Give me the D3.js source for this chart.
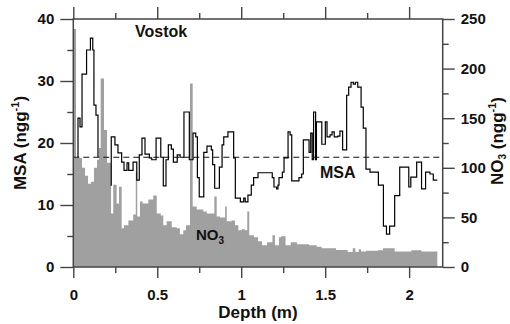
<!DOCTYPE html>
<html>
<head>
<meta charset="utf-8">
<script src="https://cdn.jsdelivr.net/npm/d3@7"></script>
<style>
  html, body { margin: 0; padding: 0; background: #fff; }
  text { font-family: "Liberation Sans", Arial, Helvetica, sans-serif; font-weight: bold; fill: #111; }
</style>
</head>
<body>
<div id="chart"></div>
<script>
// NO3 histogram: bin edges (m) and values (ng/g)
const no3Edges = [0, 0.016, 0.052, 0.070, 0.088, 0.105, 0.123, 0.141, 0.153, 0.163, 0.183, 0.201, 0.225,
  0.238, 0.258, 0.272, 0.288, 0.302, 0.328, 0.357, 0.372, 0.381, 0.397, 0.413, 0.447, 0.476, 0.497,
  0.521, 0.536, 0.556, 0.586, 0.616, 0.635, 0.655, 0.671, 0.695, 0.711, 0.735, 0.774, 0.795, 0.840,
  0.854, 0.874, 0.904, 0.914, 0.943, 0.963, 0.983, 1.003, 1.022, 1.036, 1.048, 1.076, 1.100, 1.124,
  1.154, 1.186, 1.201, 1.225, 1.237, 1.264, 1.295, 1.332, 1.404, 1.450, 1.479, 1.565, 1.634, 1.664,
  1.680, 1.700, 1.714, 1.743, 1.815, 1.845, 1.914, 2.013, 2.073, 2.168];
const no3Values = [240, 110, 100, 92, 84, 86, 100, 108, 120, 190, 138, 105, 54, 83, 64, 81, 39, 42, 47,
  53, 96, 51, 66, 64, 68, 72, 54, 52, 42, 46, 40, 39, 33, 37, 42, 185, 61, 58, 56, 54, 71, 51, 50, 61,
  46, 47, 42, 37, 38, 37, 56, 32, 30, 26, 22, 25, 32, 22, 30, 31, 22, 25, 23, 22, 20.5, 18.8, 17.1,
  15, 19, 15, 18, 15.5, 16.5, 17, 18.8, 15.5, 17, 15.5];

// MSA step record: depth where each step starts (m) and value (ng/g); null = no data
const msaDepth = [0.027, 0.028, 0.040, 0.052, 0.079, 0.102, 0.116, 0.123, 0.135, 0.147, 0.185, 0.222,
  0.226, 0.248, 0.266, 0.288, 0.302, 0.320, 0.330, 0.356, 0.378, 0.393, 0.409, 0.427, 0.453, 0.467,
  0.493, 0.521, 0.536, 0.552, 0.566, 0.584, 0.596, 0.619, 0.636, 0.659, 0.691, 0.713, 0.729, 0.739,
  0.750, 0.777, 0.796, 0.822, 0.830, 0.842, 0.870, 0.886, 0.896, 0.921, 0.955, 0.965, 0.995, 1.015,
  1.024, 1.040, 1.060, 1.074, 1.100, 1.185, 1.195, 1.211, 1.219, 1.225, 1.245, 1.255, 1.279, 1.291,
  1.301, 1.344, 1.360, 1.370, 1.404, 1.414, 1.423, 1.431, 1.443, 1.448, 1.480, 1.501, 1.511, 1.529,
  1.541, 1.554, 1.575, 1.588, 1.604, 1.628, 1.640, 1.654, 1.668, 1.680, 1.694, 1.714, 1.727, 1.743,
  1.767, 1.817, 1.847, 1.865, 1.884, 1.914, 1.944, 1.998, 2.010, 2.045, 2.074, 2.098, 2.124, 2.144, 2.168];
const msaValues = [17.7, 24.0, 22.6, 31.1, 35.0, 36.9, 35.0, 26.1, 24.5, 17.7, null, 13.2,
  21.0, 19.7, 18.4, 16.9, 15.6, 16.8, 15.6, 16.9, 14.0, 18.1, 20.8, 18.2, 17.6, 17.3,
  20.8, 17.7, 13.1, 17.3, 19.7, 19.0, 16.9, 18.1, 17.7, 25.0, 17.3, 21.6, 21.0, 14.4,
  11.3, 18.5, 19.5, 18.9, 16.5, 12.7, 16.1, 19.7, 21.0, 21.8, 17.6, 11.1, 10.5, 11.1,
  10.5, 11.6, 13.2, 14.4, 15.2, 14.4, 12.9, 12.6, 13.2, 14.4, 15.3, 17.6, 21.8, 21.3,
  13.9, 14.4, 15.0, 20.5, 18.5, 21.6, 17.3, 25.0, 17.3, 23.4, 19.8, 23.4, 21.0, 21.3,
  21.8, 21.0, 21.1, 21.9, 18.9, 27.7, 29.0, 29.8, 29.5, 29.8, 29.0, 25.8, 22.4, 15.8,
  15.3, 13.2, 6.6, 5.3, 6.6, 11.5, 16.1, 12.9, 14.5, 16.9, 12.6, 15.3, 15.0, 14.0, 14.0];
const msaMean = 17.7;

const depthTicks = [0, 0.5, 1, 1.5, 2];
const depthMinor = [0.25, 0.75, 1.25, 1.75];
const msaTicks = [0, 10, 20, 30, 40];
const msaMinor = [5, 15, 25, 35];
const no3Ticks = [0, 50, 100, 150, 200, 250];
const no3Minor = [25, 75, 125, 175, 225];

const W = 510, H = 324;
const margin = { top: 19, right: 67.3, bottom: 57, left: 73.3 };
const x0 = margin.left, x1 = W - margin.right, yTop = margin.top, yBot = H - margin.bottom;

const svg = d3.select("#chart").append("svg")
  .attr("width", W).attr("height", H);

const x = d3.scaleLinear().domain([0, 2.2]).range([x0, x1]);
const yL = d3.scaleLinear().domain([0, 40]).range([yBot, yTop]);
const yR = d3.scaleLinear().domain([0, 250]).range([yBot, yTop]);

svg.append("clipPath").attr("id", "plot")
  .append("rect").attr("x", x0).attr("y", yTop).attr("width", x1 - x0).attr("height", yBot - yTop);

// NO3 bars as a step area
const no3Pts = no3Values.map((v, i) => [no3Edges[i], v]);
no3Pts.push([no3Edges[no3Edges.length - 1], no3Values[no3Values.length - 1]]);
svg.append("path")
  .datum(no3Pts)
  .attr("clip-path", "url(#plot)")
  .attr("fill", "#a0a0a0")
  .attr("d", d3.area().curve(d3.curveStepAfter)
    .x(d => x(d[0])).y0(yR(0)).y1(d => yR(d[1])));

// mean MSA dashed
svg.append("line")
  .attr("x1", x0).attr("x2", x1)
  .attr("y1", yL(msaMean)).attr("y2", yL(msaMean))
  .attr("stroke", "#111").attr("stroke-width", 1.1)
  .attr("stroke-dasharray", "6,4");

// MSA step line
const msaPts = msaDepth.map((d, i) => [d, msaValues[i]]);
svg.append("path")
  .datum(msaPts)
  .attr("clip-path", "url(#plot)")
  .attr("fill", "none")
  .attr("stroke", "#000")
  .attr("stroke-width", 1.2)
  .attr("d", d3.line().curve(d3.curveStepAfter)
    .defined(d => d[1] != null)
    .x(d => x(d[0])).y(d => yL(d[1])));

// axes
function styleAxis(g) {
  g.select(".domain").remove();
  g.selectAll("line").attr("stroke", "#444").attr("stroke-width", 1.4);
  g.selectAll("text").attr("font-size", 15).attr("fill", "#111")
    .attr("font-family", "Liberation Sans, Arial, sans-serif").attr("font-weight", "bold");
}

svg.append("g").attr("transform", `translate(0,${yBot})`)
  .call(d3.axisBottom(x).tickValues(depthTicks).tickFormat(d => d).tickSize(11).tickPadding(11))
  .call(styleAxis);
svg.append("g").attr("transform", `translate(0,${yBot})`)
  .call(d3.axisBottom(x).tickValues(depthMinor).tickFormat("").tickSize(6))
  .call(styleAxis);
svg.append("g").attr("transform", `translate(0,${yTop})`)
  .call(d3.axisTop(x).tickValues(depthTicks).tickFormat("").tickSize(12))
  .call(styleAxis);
svg.append("g").attr("transform", `translate(0,${yTop})`)
  .call(d3.axisTop(x).tickValues(depthMinor).tickFormat("").tickSize(6))
  .call(styleAxis);

svg.append("g").attr("transform", `translate(${x0},0)`)
  .call(d3.axisLeft(yL).tickValues(msaTicks).tickSize(13).tickPadding(6))
  .call(styleAxis);
svg.append("g").attr("transform", `translate(${x0},0)`)
  .call(d3.axisLeft(yL).tickValues(msaMinor).tickFormat("").tickSize(6))
  .call(styleAxis);
svg.append("g").attr("transform", `translate(${x1},0)`)
  .call(d3.axisRight(yR).tickValues(no3Ticks).tickSize(12).tickPadding(6))
  .call(styleAxis);
svg.append("g").attr("transform", `translate(${x1},0)`)
  .call(d3.axisRight(yR).tickValues(no3Minor).tickFormat("").tickSize(6))
  .call(styleAxis);

// frame
svg.append("rect")
  .attr("x", x0).attr("y", yTop).attr("width", x1 - x0).attr("height", yBot - yTop)
  .attr("fill", "none").attr("stroke", "#444").attr("stroke-width", 1.5);

// titles
svg.append("text")
  .attr("x", (x0 + x1) / 2).attr("y", 318)
  .attr("text-anchor", "middle").attr("font-size", 17)
  .text("Depth (m)");

const lt = svg.append("text")
  .attr("transform", `translate(26,${(yTop + yBot) / 2}) rotate(-90)`)
  .attr("text-anchor", "middle").attr("font-size", 17);
lt.append("tspan").text("MSA (ngg");
lt.append("tspan").attr("font-size", 11).attr("dy", -7).text("-1");
lt.append("tspan").attr("dy", 7).text(")");

const rt = svg.append("text")
  .attr("transform", `translate(503,${(yTop + yBot) / 2 - 2}) rotate(-90)`)
  .attr("text-anchor", "middle").attr("font-size", 17);
rt.append("tspan").text("NO");
rt.append("tspan").attr("font-size", 10).attr("dy", 3).text("3");
rt.append("tspan").attr("dy", -3).text(" (ngg");
rt.append("tspan").attr("font-size", 11).attr("dy", -7).text("-1");
rt.append("tspan").attr("dy", 7).text(")");

svg.append("text").attr("x", 135).attr("y", 37).attr("font-size", 16).text("Vostok");
svg.append("text").attr("x", 320).attr("y", 178).attr("font-size", 16).text("MSA");

const nl = svg.append("text").attr("x", 196).attr("y", 240).attr("font-size", 15);
nl.append("tspan").text("NO");
nl.append("tspan").attr("font-size", 10).attr("dy", 4).text("3");
</script>
</body>
</html>
